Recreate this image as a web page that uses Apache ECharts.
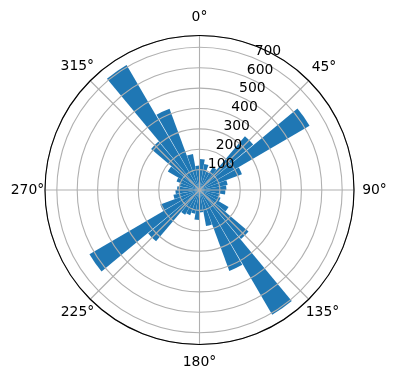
<!DOCTYPE html>
<html>
<head>
<meta charset="utf-8">
<script src="https://cdn.jsdelivr.net/npm/echarts@6/dist/echarts.min.js"></script>
<style>
html,body{margin:0;padding:0;background:#fff;}
#chart{width:396px;height:380px;}
</style>
</head>
<body>
<div id="chart"></div>
<script>
// Bin centres (degrees) of the 36 wind-rose sectors
const binCenters = ['5','15','25','35','45','55','65','75','85','95','105','115',
  '125','135','145','155','165','175','185','195','205','215','225','235',
  '245','255','265','275','285','295','305','315','325','335','345','355'];
// Bar lengths per sector
const binValues = [152,130,95,130,345,625,222,140,132,127,100,110,
  165,315,708,423,180,110,147,118,132,140,330,625,
  205,130,118,110,100,120,180,311,710,425,180,120];
// Tick labels
const angleTicks = [0,45,90,135,180,225,270,315];
const radiusTicks = [100,200,300,400,500,600,700];

const FONT = 'DejaVu Sans';
const FS = 13.9;
const RMAX = 758;
const CX = 199.5, CY = 190, R = 154.5;

// per-label box tuning (width / lineHeight) so the label centres sit evenly around the circle
const angleRich = {
  r0:   {width: 30, lineHeight: 53, align: 'center'},
  r45:  {width: 41.8, lineHeight: 38.8, align: 'center'},
  r90:  {width: 57, lineHeight: 14, align: 'center'},
  r135: {width: 38.8, lineHeight: 37.8, align: 'center'},
  r180: {width: 40, lineHeight: 51, align: 'center'},
  r225: {width: 36.8, lineHeight: 37.8, align: 'center'},
  r270: {width: 51, lineHeight: 14, align: 'center'},
  r315: {width: 37.2, lineHeight: 39.4, align: 'center'}
};
Object.keys(angleRich).forEach(k => {
  Object.assign(angleRich[k], {fontFamily: FONT, fontSize: FS, color: '#000'});
});

const chart = echarts.init(document.getElementById('chart'), null, {renderer: 'canvas'});
chart.setOption({
  animation: false,
  backgroundColor: '#fff',
  polar: [
    {center: [CX, CY], radius: R},
    {center: [CX + 13.8, CY - 7], radius: R},
    {center: [CX, CY], radius: R}
  ],
  angleAxis: [
    {
      polarIndex: 0, type: 'value', min: 0, max: 360, interval: 45,
      startAngle: 90, clockwise: true, z: 6,
      axisLine: {lineStyle: {color: '#000', width: 1.1}},
      axisTick: {show: false},
      splitLine: {lineStyle: {color: '#b0b0b0', width: 1.1}},
      axisLabel: {
        margin: -8,
        formatter: v => angleTicks.includes(v) ? '{r' + v + '|' + v + '°}' : '',
        rich: angleRich,
        fontFamily: FONT, fontSize: FS, color: '#000'
      }
    },
    {polarIndex: 1, type: 'value', min: 0, max: 360, startAngle: 67.5, clockwise: true, show: false},
    {polarIndex: 2, type: 'category', data: binCenters, startAngle: 90, clockwise: true, boundaryGap: true, show: false}
  ],
  radiusAxis: [
    {
      polarIndex: 0, type: 'value', min: 0, max: RMAX, interval: 100, z: 5,
      axisLine: {show: false}, axisTick: {show: false}, axisLabel: {show: false},
      splitLine: {lineStyle: {color: '#b0b0b0', width: 1.1}}
    },
    {
      polarIndex: 1, type: 'value', min: 0, max: RMAX, interval: 100, z: 7,
      axisLine: {show: false}, axisTick: {show: false}, splitLine: {show: false},
      axisLabel: {
        margin: 0, align: 'center', verticalAlign: 'middle', rotate: 0,
        formatter: v => radiusTicks.includes(v) ? String(v) : '',
        fontFamily: FONT, fontSize: FS, color: '#000'
      }
    },
    {polarIndex: 2, type: 'value', min: 0, max: RMAX, show: false}
  ],
  series: [{
    type: 'bar',
    coordinateSystem: 'polar',
    polarIndex: 2,
    data: binValues,
    barWidth: '95%',
    itemStyle: {color: '#1f77b4'},
    z: 1,
    silent: true
  }]
});
</script>
</body>
</html>
